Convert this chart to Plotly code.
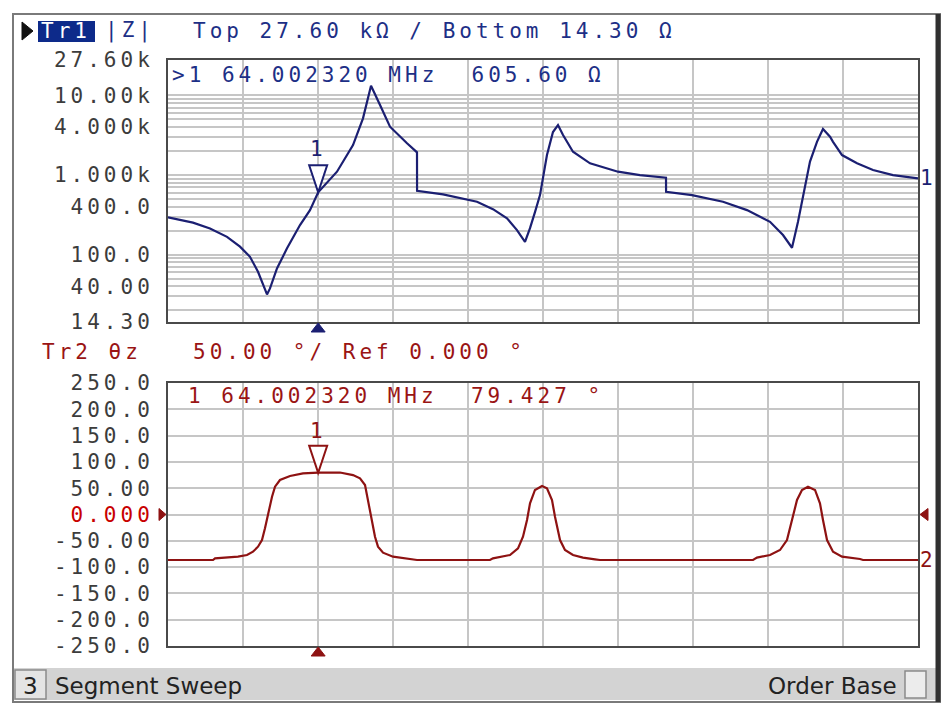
import math

import plotly.graph_objects as go

W, H = 949, 705

NAVY = "#1b1f72"
RED = "#8e1212"
HEAD_BLUE = "#1d2f86"
HEAD_RED = "#9a1414"
GRID = "#c6c6c6"
MONO = "DejaVu Sans Mono"

# |Z| trace (Tr1), frequency in MHz, impedance in ohm
freq_z = [62.000, 62.333, 62.560, 62.787, 62.960, 63.093, 63.200, 63.267, 63.320, 63.360,
          63.453, 63.587, 63.760, 63.893, 64.0023, 64.253, 64.360, 64.467, 64.600, 64.707,
          64.827, 64.960, 65.187, 65.320, 65.321, 65.667, 66.120, 66.333, 66.520, 66.653,
          66.760, 66.827, 66.893, 66.960, 67.053, 67.133, 67.200, 67.267, 67.400, 67.627,
          68.000, 68.293, 68.640, 68.641, 68.987, 69.400, 69.720, 70.027, 70.200, 70.320,
          70.400, 70.467, 70.560, 70.653, 70.733, 70.827, 70.867, 70.987, 71.187, 71.400,
          71.667, 72.000]
z_ohm = [293, 252, 213, 167, 126, 94, 61, 41.5, 31.7, 37.7,
         67, 120, 235, 362, 605.6, 1097, 1600, 2366, 5120, 13150,
         7520, 4020, 2490, 1920, 632, 571, 460, 372, 285, 203,
         145, 215, 342, 558, 1774, 3450, 4220, 3160, 1950, 1397,
         1097, 995, 921, 615, 558, 460, 362, 258, 176, 122,
         258, 558, 1466, 2600, 3760, 3010, 2600, 1774, 1397, 1150,
         995, 906]

# phase trace (Tr2), degrees
freq_p = [62.000, 62.600, 62.627, 62.933, 63.053, 63.133, 63.200, 63.253, 63.293, 63.333,
          63.387, 63.427, 63.493, 63.627, 63.800, 64.0023, 64.293, 64.467, 64.560, 64.627,
          64.667, 64.720, 64.760, 64.800, 64.867, 65.000, 65.187, 65.320, 66.293, 66.333,
          66.560, 66.667, 66.733, 66.787, 66.827, 66.893, 66.987, 67.053, 67.120, 67.160,
          67.227, 67.293, 67.400, 67.533, 67.693, 67.760, 69.800, 69.853, 70.027, 70.160,
          70.253, 70.320, 70.387, 70.453, 70.533, 70.627, 70.693, 70.733, 70.787, 70.867,
          70.987, 71.227, 71.267, 72.000]
phase_deg = [-86.5, -86.5, -83.3, -80.2, -77, -70.7, -61.2, -48.5, -26.2, 2.3,
             33.9, 52.9, 65.6, 73.2, 78.3, 79.427, 79.8, 75, 68.8, 56.1,
             27.6, -10.4, -42.2, -61.2, -72.6, -80.2, -84.6, -86.5, -86.5, -83.3,
             -77, -64.3, -42.2, -10.4, 21.3, 46.6, 54, 49.8, 27.6, -4.2,
             -48.5, -67.5, -77, -82, -85.2, -86.5, -86.5, -82, -77, -67.5,
             -48.5, -10.4, 27.6, 46.6, 52.9, 46.6, 21.3, -10.4, -48.5, -70.7,
             -80.2, -84.6, -86.5, -86.5]

marker_f = 64.002320
marker_z = 605.60
marker_p = 79.427

z_tickvals = [27600, 10000, 4000, 1000, 400, 100, 40, 14.3]
z_ticktext = ["27.60k", "10.00k", "4.000k", "1.000k", "400.0", "100.0", "40.00", "14.30"]
p_tickvals = [250, 200, 150, 100, 50, 0, -50, -100, -150, -200, -250]
p_ticktext = ["250.0", "200.0", "150.0", "100.0", "50.00",
              "<span style='color:#c80000'>0.000</span>",
              "-50.00", "-100.0", "-150.0", "-200.0", "-250.0"]
z_grid = [m * 10 ** e for e in range(1, 5) for m in range(1, 10) if 20 <= m * 10 ** e <= 10000]


def px(x):
    return x / W


def py(y):
    return 1 - y / H


fig = go.Figure()
fig.add_trace(go.Scatter(x=freq_z, y=z_ohm, mode="lines", line=dict(color=NAVY, width=2.2),
                         xaxis="x", yaxis="y", hoverinfo="skip"))
fig.add_trace(go.Scatter(x=freq_p, y=phase_deg, mode="lines", line=dict(color=RED, width=2.2),
                         xaxis="x2", yaxis="y2", hoverinfo="skip"))

xcommon = dict(range=[62, 72], tick0=62, dtick=1, showgrid=True, gridcolor=GRID, gridwidth=1.5,
               showticklabels=False, ticks="", zeroline=False, showline=True, mirror=True,
               linecolor="#4a4a4a", linewidth=2, domain=[px(168), px(918)], automargin=False)
tickfont = dict(family=MONO, size=21, color="#3c3c3c")

fig.update_layout(
    width=W, height=H,
    margin=dict(l=0, r=0, t=0, b=0, autoexpand=False),
    paper_bgcolor="white", plot_bgcolor="white",
    showlegend=False,
    xaxis=dict(anchor="y", **xcommon),
    xaxis2=dict(anchor="y2", **xcommon),
    yaxis=dict(type="log", range=[math.log10(14.3), math.log10(27600)], domain=[py(322), py(60)],
               tickmode="array", tickvals=z_tickvals, ticktext=z_ticktext, showgrid=False,
               ticks="", ticklabelstandoff=8, tickfont=tickfont, zeroline=False, automargin=False,
               showline=True, mirror=True, linecolor="#4a4a4a", linewidth=2,
               minor=dict(tickmode="array", tickvals=z_grid, showgrid=True, gridcolor=GRID,
                          gridwidth=1.5, ticks="")),
    yaxis2=dict(range=[-250, 250], domain=[py(646), py(383)], tickmode="array",
                tickvals=p_tickvals, ticktext=p_ticktext, showgrid=True, gridcolor=GRID,
                gridwidth=1.5, ticks="", ticklabelstandoff=8, tickfont=tickfont, zeroline=False,
                automargin=False, showline=True, mirror=True, linecolor="#4a4a4a", linewidth=2),
)

shapes = []
# window frame and status bar
shapes.append(dict(type="rect", xref="paper", yref="paper", x0=px(13), x1=px(940), y0=py(702), y1=py(14),
                   line=dict(color="#7a7a7a", width=2), fillcolor="rgba(0,0,0,0)", layer="below"))
shapes.append(dict(type="line", xref="paper", yref="paper", x0=px(938), x1=px(938), y0=py(702), y1=py(14),
                   line=dict(color="#303030", width=5)))
shapes.append(dict(type="rect", xref="paper", yref="paper", x0=px(14), x1=px(936), y0=py(700), y1=py(668),
                   line=dict(width=0), fillcolor="#d3d3d3", layer="below"))
shapes.append(dict(type="rect", xref="paper", yref="paper", x0=px(15), x1=px(46), y0=py(699), y1=py(670),
                   line=dict(color="#8a8a8a", width=1.5), fillcolor="#e4e4e4", layer="below"))
shapes.append(dict(type="rect", xref="paper", yref="paper", x0=px(905), x1=px(926), y0=py(698), y1=py(671),
                   line=dict(color="#8a8a8a", width=1.5), fillcolor="#ececec", layer="below"))
# Tr1 header box and arrow
shapes.append(dict(type="path", xref="paper", yref="paper",
                   path=f"M {px(22)},{py(22)} L {px(33)},{py(31)} L {px(22)},{py(40)} Z",
                   line=dict(color="#111", width=1), fillcolor="#111"))
shapes.append(dict(type="rect", xref="paper", yref="paper", x0=px(38), x1=px(95), y0=py(42), y1=py(21),
                   line=dict(width=0), fillcolor="#0d2a8a", layer="below"))
# marker triangles on traces
shapes.append(dict(type="path", xref="x", yref="y", xsizemode="pixel", ysizemode="pixel",
                   xanchor=marker_f, yanchor=marker_z, path="M -9 27 L 9 27 L 0 0 Z",
                   line=dict(color=NAVY, width=2), fillcolor="white"))
shapes.append(dict(type="path", xref="x2", yref="y2", xsizemode="pixel", ysizemode="pixel",
                   xanchor=marker_f, yanchor=marker_p, path="M -9 27 L 9 27 L 0 0 Z",
                   line=dict(color=RED, width=2), fillcolor="white"))
# stimulus markers under the axes
shapes.append(dict(type="path", xref="x", yref="paper", xsizemode="pixel", ysizemode="pixel",
                   xanchor=marker_f, yanchor=py(322), path="M 0 -1 L 7 -10 L -7 -10 Z",
                   line=dict(color=NAVY, width=1), fillcolor=NAVY))
shapes.append(dict(type="path", xref="x2", yref="paper", xsizemode="pixel", ysizemode="pixel",
                   xanchor=marker_f, yanchor=py(646), path="M 0 -1 L 7 -10 L -7 -10 Z",
                   line=dict(color=RED, width=1), fillcolor=RED))
# reference level arrows
shapes.append(dict(type="path", xref="paper", yref="y2", xsizemode="pixel", ysizemode="pixel",
                   xanchor=px(168), yanchor=0, path="M -9 6 L -2 0 L -9 -6 Z",
                   line=dict(color=RED, width=1), fillcolor=RED))
shapes.append(dict(type="path", xref="paper", yref="y2", xsizemode="pixel", ysizemode="pixel",
                   xanchor=px(918), yanchor=0, path="M 2 0 L 10 6 L 10 -6 Z",
                   line=dict(color=RED, width=1), fillcolor=RED))
fig.update_layout(shapes=shapes)


def label(x, y, text, color, size=21, xanchor="left", family=MONO, **kw):
    fig.add_annotation(x=x, y=y, xref=kw.pop("xref", "paper"), yref=kw.pop("yref", "paper"),
                       text=text, showarrow=False, xanchor=xanchor, yanchor="middle",
                       align=xanchor if xanchor != "center" else "center",
                       font=dict(family=family, size=size, color=color), **kw)


label(px(66), py(31), "Tr1", "white", xanchor="center")
label(px(103), py(31), "|Z|", HEAD_BLUE)
label(px(191), py(31), "Top 27.60 kΩ / Bottom 14.30 Ω", HEAD_BLUE)
label(px(170), py(75), ">1 64.002320 MHz  605.60 Ω", HEAD_BLUE)
label(px(40), py(352), "Tr2 θz", HEAD_RED)
label(px(191), py(352), "50.00 °/ Ref 0.000 °", HEAD_RED)
label(px(186), py(396), "1 64.002320 MHz  79.427 °", HEAD_RED)
# marker numbers
label(marker_f, math.log10(marker_z), "1", NAVY, xanchor="center", xref="x", yref="y", yshift=43)
label(marker_f, marker_p, "1", RED, xanchor="center", xref="x2", yref="y2", yshift=42)
# trace numbers at the right edge
label(px(918), math.log10(z_ohm[-1]), "1", NAVY, xref="paper", yref="y")
label(px(918), phase_deg[-1], "2", RED, xref="paper", yref="y2")
# status bar
label(px(30), py(686), "3", "#222", xanchor="center", family="DejaVu Sans", size=23)
label(px(53), py(686), "Segment Sweep", "#222", family="DejaVu Sans", size=23)
label(px(899), py(686), "Order Base", "#222", xanchor="right", family="DejaVu Sans", size=23)

post = """
document.body.style.margin = '0';
document.querySelectorAll('text').forEach(function(t){
  var ff = t.style.fontFamily || '';
  if (ff.indexOf('Mono') >= 0) { t.style.letterSpacing = '4px'; }
});
"""

fig.write_html("out.html", config={"displayModeBar": False}, post_script=post)
